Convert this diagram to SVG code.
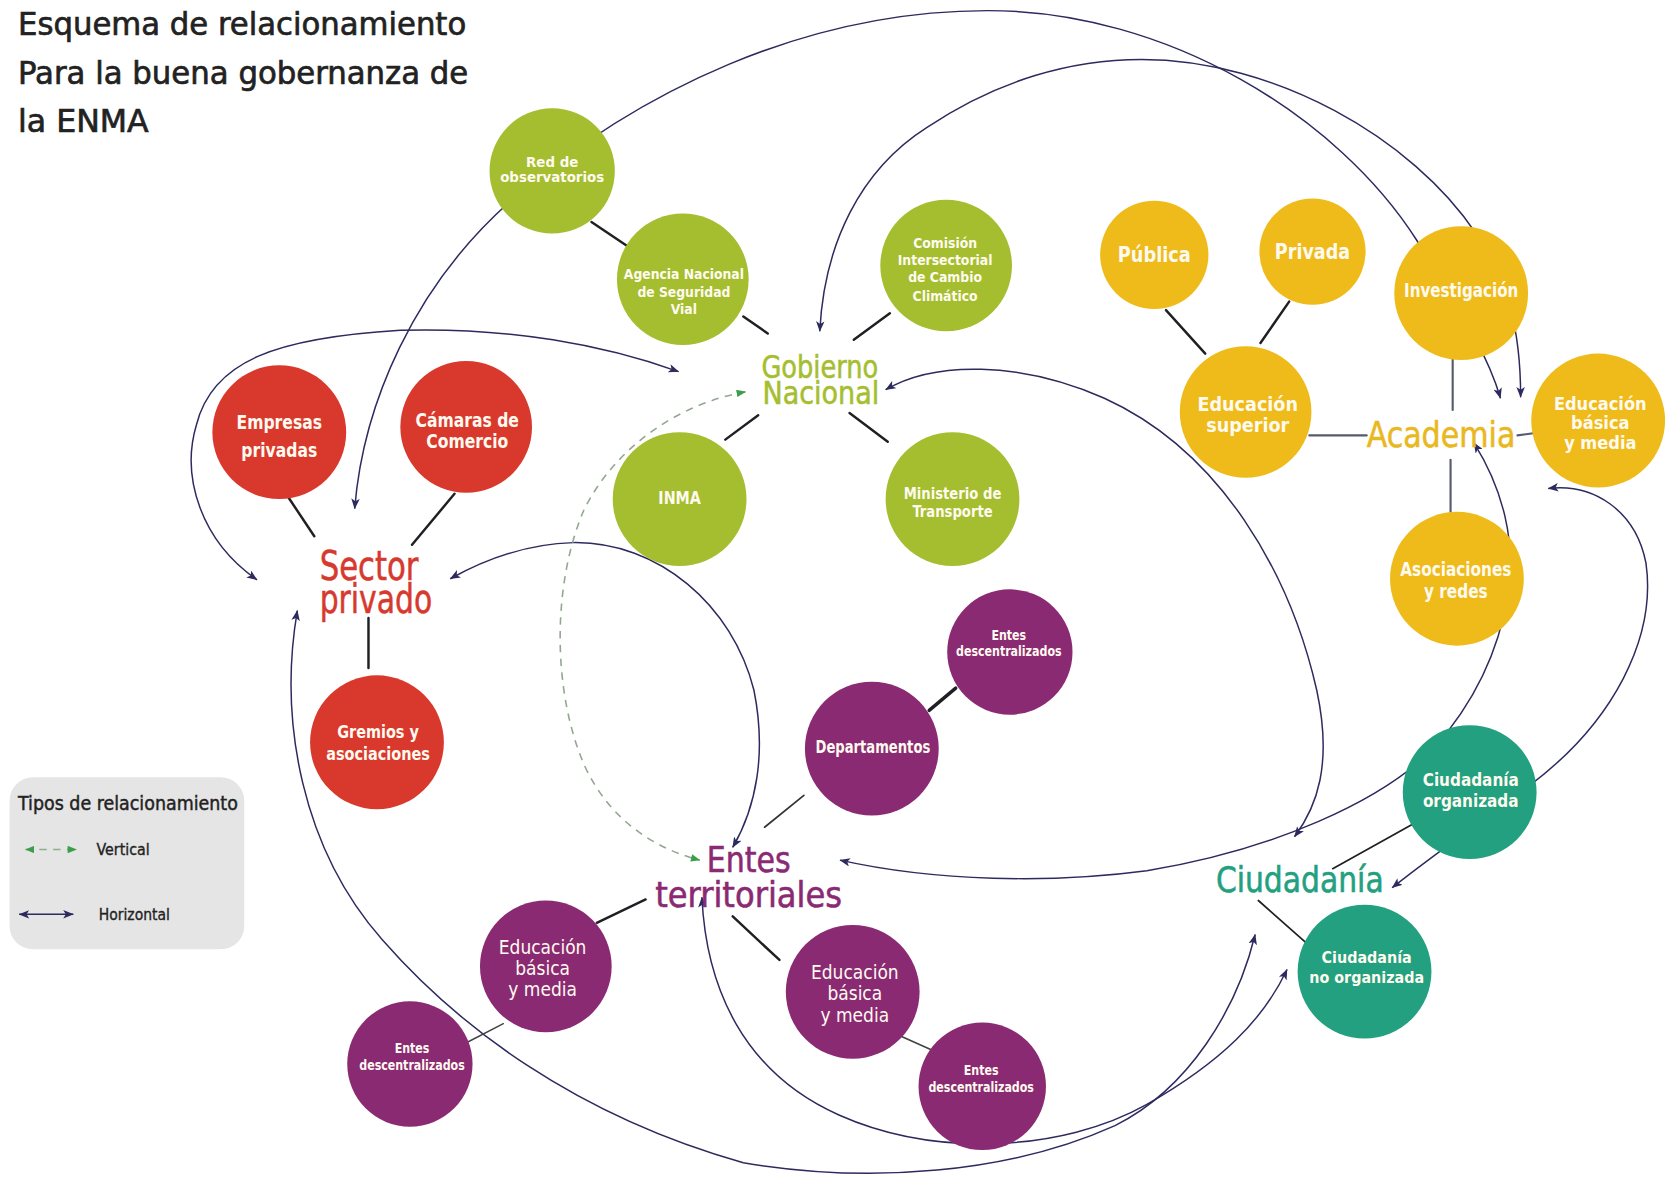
<svg xmlns="http://www.w3.org/2000/svg" width="1665" height="1179" viewBox="0 0 1665 1179">
<defs>
<style>
.f{font-family:'DejaVu Sans Condensed','DejaVu Sans',sans-serif}
.nt{font-family:'DejaVu Sans Condensed','DejaVu Sans',sans-serif;font-weight:bold;fill:#fffaf0;text-anchor:middle}
.nr{font-family:'DejaVu Sans Condensed','DejaVu Sans',sans-serif;font-weight:normal;fill:#fffaf0;text-anchor:middle}
.conn{fill:none;stroke:#2d2a5e;stroke-width:1.4}
.vert{fill:none;stroke:#93a791;stroke-width:1.5;stroke-dasharray:7 6}
.link{stroke:#1f1f24;stroke-width:2.3;stroke-linecap:round}
.green{fill:#a5be2f}
.yellow{fill:#efbb1b}
.red{fill:#d9392c}
.purple{fill:#8a2a72}
.teal{fill:#22a07f}
</style>
<marker id="ah" viewBox="0 0 10 8" refX="9.5" refY="4" markerWidth="10" markerHeight="8" markerUnits="userSpaceOnUse" orient="auto-start-reverse">
<path d="M0,0 L10,4 L0,8 L2.5,4 z" fill="#2d2a5e"/>
</marker>
<marker id="ahg" viewBox="0 0 10 8" refX="9.5" refY="4" markerWidth="9" markerHeight="7" markerUnits="userSpaceOnUse" orient="auto-start-reverse">
<path d="M0,0 L10,4 L0,8 z" fill="#3a9e4a"/>
</marker>
</defs>
<rect width="1665" height="1179" fill="#ffffff"/>
<g transform="scale(1.0619)">

<g id="title" class="f" fill="#222" stroke="#222" stroke-width="0.6" font-size="30">
<text x="17" y="33" textLength="422" lengthAdjust="spacingAndGlyphs">Esquema de relacionamiento</text>
<text x="17" y="79" textLength="424" lengthAdjust="spacingAndGlyphs">Para la buena gobernanza de</text>
<text x="17" y="124" textLength="123" lengthAdjust="spacingAndGlyphs">la ENMA</text>
</g>

<g id="connectors">
<path class="conn" marker-start="url(#ah)" marker-end="url(#ah)" d="M334,479 C342,380 390,270 480,190 C600,85 760,10 930,10 C1100,10 1260,110 1334,226 C1370,285 1400,330 1413,375"/>
<path class="conn" marker-start="url(#ah)" marker-end="url(#ah)" d="M772,312 C776,230 810,160 873,120 C940,75 1010,56 1075,56 C1200,56 1330,130 1390,220 C1420,265 1432,310 1432,374"/>
<path class="conn" marker-start="url(#ah)" marker-end="url(#ah)" d="M242,546 C190,510 170,450 185,400 C200,340 260,318 377,311 C480,308 570,325 639,350"/>
<path class="conn" marker-start="url(#ah)" marker-end="url(#ah)" d="M834,367 C880,340 960,340 1040,375 C1150,425 1215,540 1240,650 C1255,720 1240,760 1219,788"/>
<path class="conn" marker-start="url(#ah)" marker-end="url(#ah)" d="M1388,417 C1415,460 1428,510 1420,560 C1412,610 1390,660 1350,705 C1300,755 1200,800 1080,820 C990,832 880,830 791,810"/>
<path class="conn" marker-start="url(#ah)" marker-end="url(#ah)" d="M1458,460 C1500,455 1540,480 1550,530 C1560,600 1520,680 1440,740 C1400,770 1350,805 1311,836"/>
<path class="conn" marker-start="url(#ah)" marker-end="url(#ah)" d="M280,575 C262,680 285,800 360,885 C430,965 540,1050 700,1095 C820,1115 950,1105 1050,1060 C1120,1025 1165,950 1182,880"/>
<path class="conn" marker-start="url(#ah)" marker-end="url(#ah)" d="M661,845 C665,930 700,1010 790,1050 C880,1090 1000,1085 1080,1040 C1150,1000 1190,960 1212,913"/>
<path class="conn" marker-start="url(#ah)" marker-end="url(#ah)" d="M424,545 C460,525 500,512 540,511 C620,510 690,570 710,650 C722,710 712,760 690,798"/>
<path class="vert" marker-start="url(#ahg)" marker-end="url(#ahg)" d="M702,369 C640,380 580,420 550,480 C520,550 520,650 550,720 C575,775 620,800 659,810"/>
<line class="link" x1="557" y1="209" x2="591" y2="232"/>
<line class="link" x1="700" y1="298" x2="723" y2="314"/>
<line class="link" x1="838" y1="295" x2="804" y2="320"/>
<line class="link" x1="714" y1="391" x2="683" y2="414"/>
<line class="link" x1="800" y1="389" x2="836" y2="416"/>
<line class="link" x1="1098" y1="292" x2="1135" y2="333"/>
<line class="link" x1="1214" y1="284" x2="1187" y2="323"/>
<line class="link" x1="1233" y1="410" x2="1287" y2="410" style="stroke:#555a6e;stroke-width:2"/>
<line class="link" x1="1368" y1="336" x2="1368" y2="386" style="stroke:#555a6e;stroke-width:2"/>
<line class="link" x1="1429" y1="410" x2="1444" y2="408" style="stroke:#555a6e;stroke-width:2"/>
<line class="link" x1="1366" y1="433" x2="1366" y2="483" style="stroke:#555a6e;stroke-width:2"/>
<line class="link" x1="272" y1="469" x2="296" y2="505"/>
<line class="link" x1="428" y1="465" x2="388" y2="513"/>
<line class="link" x1="347" y1="582" x2="347" y2="629"/>
<line class="link" x1="900" y1="648" x2="875" y2="669" style="stroke-width:3.2"/>
<line class="link" x1="757" y1="749" x2="720" y2="779" style="stroke:#333;stroke-width:1.6"/>
<line class="link" x1="608" y1="847" x2="562" y2="869"/>
<line class="link" x1="474" y1="964" x2="441" y2="981" style="stroke:#444;stroke-width:1.4"/>
<line class="link" x1="690" y1="863" x2="734" y2="904"/>
<line class="link" x1="849" y1="976" x2="878" y2="989" style="stroke:#444;stroke-width:1.6"/>
<line class="link" x1="1334" y1="774" x2="1255" y2="818" style="stroke-width:1.6"/>
<line class="link" x1="1185" y1="848" x2="1229" y2="887" style="stroke-width:1.6"/>
</g>

<g id="gobierno-nacional" class="f" fill="#a5be2f" stroke="#a5be2f" stroke-width="0.5" font-size="30" text-anchor="middle">
<text x="772" y="356" textLength="110" lengthAdjust="spacingAndGlyphs">Gobierno</text>
<text x="773" y="380" textLength="110" lengthAdjust="spacingAndGlyphs">Nacional</text>
</g>
<g id="red-observatorios"><circle class="green" cx="520" cy="161" r="59"/>
<text class="nt" font-size="14" x="520" y="157">Red de</text><text class="nt" font-size="14" x="520" y="171">observatorios</text></g>
<g id="agencia-nacional"><circle class="green" cx="643" cy="263" r="62"/>
<g transform="matrix(0.96,0,0,1,25.76,0)"><text class="nt" font-size="13.5" x="644" y="263">Agencia Nacional</text><text class="nt" font-size="13.5" x="644" y="280">de Seguridad</text><text class="nt" font-size="13.5" x="644" y="296">Vial</text></g></g>
<g id="comision-intersectorial"><circle class="green" cx="891" cy="250" r="62"/>
<g transform="matrix(0.93,0,0,1,62.3,0)"><text class="nt" font-size="14" x="890" y="234">Comisión</text><text class="nt" font-size="14" x="890" y="250">Intersectorial</text><text class="nt" font-size="14" x="890" y="266">de Cambio</text><text class="nt" font-size="14" x="890" y="283">Climático</text></g></g>
<g id="inma"><circle class="green" cx="640" cy="470" r="63"/>
<g transform="matrix(0.88,0,0,1,76.8,0)"><text class="nt" font-size="17" x="640" y="475">INMA</text></g></g>
<g id="ministerio-transporte"><circle class="green" cx="897" cy="470" r="63"/>
<g transform="matrix(0.89,0,0,1,98.67,0)"><text class="nt" font-size="15.5" x="897" y="470">Ministerio de</text><text class="nt" font-size="15.5" x="897" y="487">Transporte</text></g></g>

<g id="academia" class="f" fill="#e9b81f" stroke="#e9b81f" stroke-width="0.5" font-size="33">
<text x="1287" y="421" textLength="140" lengthAdjust="spacingAndGlyphs">Academia</text>
</g>
<g id="publica"><circle class="yellow" cx="1087" cy="240" r="51"/>
<g transform="matrix(0.93,0,0,1,76.09,0)"><text class="nt" font-size="20" x="1087" y="247">Pública</text></g></g>
<g id="privada"><circle class="yellow" cx="1236" cy="237" r="50"/>
<g transform="matrix(0.92,0,0,1,98.88,0)"><text class="nt" font-size="20" x="1236" y="244">Privada</text></g></g>
<g id="investigacion"><circle class="yellow" cx="1376" cy="276" r="63"/>
<g transform="matrix(0.88,0,0,1,165.12,0)"><text class="nt" font-size="18" x="1376" y="280">Investigación</text></g></g>
<g id="educacion-superior"><circle class="yellow" cx="1173" cy="388" r="62"/>
<g transform="matrix(0.97,0,0,1,35.25,0)"><text class="nt" font-size="19" x="1175" y="387">Educación</text><text class="nt" font-size="19" x="1175" y="407">superior</text></g></g>
<g id="educacion-basica-academia"><circle class="yellow" cx="1505" cy="396" r="63"/>
<text class="nt" font-size="17" x="1507" y="386">Educación</text><text class="nt" font-size="17" x="1507" y="404">básica</text><text class="nt" font-size="17" x="1507" y="423">y media</text></g>
<g id="asociaciones-redes"><circle class="yellow" cx="1372" cy="545" r="63"/>
<g transform="matrix(0.89,0,0,1,150.81,0)"><text class="nt" font-size="18" x="1371" y="542">Asociaciones</text><text class="nt" font-size="18" x="1371" y="563">y redes</text></g></g>

<g id="sector-privado" class="f" fill="#d63a2e" stroke="#d63a2e" stroke-width="0.5" font-size="38">
<text x="301" y="546" textLength="93" lengthAdjust="spacingAndGlyphs">Sector</text>
<text x="301" y="577" textLength="106" lengthAdjust="spacingAndGlyphs">privado</text>
</g>
<g id="empresas-privadas"><circle class="red" cx="263" cy="407" r="63"/>
<g transform="matrix(0.86,0,0,1,36.82,0)"><text class="nt" font-size="19" x="263" y="404">Empresas</text><text class="nt" font-size="19" x="263" y="430">privadas</text></g></g>
<g id="camaras-comercio"><circle class="red" cx="439" cy="402" r="62"/>
<g transform="matrix(0.86,0,0,1,61.6,0)"><text class="nt" font-size="19" x="440" y="402">Cámaras de</text><text class="nt" font-size="19" x="440" y="422">Comercio</text></g></g>
<g id="gremios-asociaciones"><circle class="red" cx="355" cy="699" r="63"/>
<g transform="matrix(0.89,0,0,1,39.16,0)"><text class="nt" font-size="17" x="356" y="695">Gremios y</text><text class="nt" font-size="17" x="356" y="716">asociaciones</text></g></g>

<g id="entes-territoriales" class="f" fill="#8a2a72" stroke="#8a2a72" stroke-width="0.5" font-size="33" text-anchor="middle">
<text x="705" y="821" textLength="79" lengthAdjust="spacingAndGlyphs">Entes</text>
<text x="705" y="854" textLength="176" lengthAdjust="spacingAndGlyphs">territoriales</text>
</g>
<g id="entes-descentralizados-1"><circle class="purple" cx="951" cy="614" r="59"/>
<g transform="matrix(0.89,0,0,1,104.5,0)"><text class="nt" font-size="13" x="950" y="603">Entes</text><text class="nt" font-size="13" x="950" y="618">descentralizados</text></g></g>
<g id="departamentos"><circle class="purple" cx="821" cy="705" r="63"/>
<g transform="matrix(0.86,0,0,1,115.08,0)"><text class="nt" font-size="16" x="822" y="709">Departamentos</text></g></g>
<g id="educacion-basica-1"><circle class="purple" cx="514" cy="910" r="62"/>
<g transform="matrix(0.94,0,0,1,30.66,0)"><text class="nr" font-size="19" x="511" y="898">Educación</text><text class="nr" font-size="19" x="511" y="918">básica</text><text class="nr" font-size="19" x="511" y="938">y media</text></g></g>
<g id="entes-descentralizados-2"><circle class="purple" cx="386" cy="1002" r="59"/>
<g transform="matrix(0.89,0,0,1,42.68,0)"><text class="nt" font-size="13" x="388" y="992">Entes</text><text class="nt" font-size="13" x="388" y="1008">descentralizados</text></g></g>
<g id="educacion-basica-2"><circle class="purple" cx="803" cy="934" r="63"/>
<g transform="matrix(0.94,0,0,1,48.3,0)"><text class="nr" font-size="19" x="805" y="922">Educación</text><text class="nr" font-size="19" x="805" y="942">básica</text><text class="nr" font-size="19" x="805" y="962">y media</text></g></g>
<g id="entes-descentralizados-3"><circle class="purple" cx="925" cy="1023" r="60"/>
<g transform="matrix(0.89,0,0,1,101.64,0)"><text class="nt" font-size="13" x="924" y="1012">Entes</text><text class="nt" font-size="13" x="924" y="1028">descentralizados</text></g></g>

<g id="ciudadania" class="f" fill="#22a07f" stroke="#22a07f" stroke-width="0.5" font-size="33">
<text x="1145" y="840" textLength="158" lengthAdjust="spacingAndGlyphs">Ciudadanía</text>
</g>
<g id="ciudadania-organizada"><circle class="teal" cx="1384" cy="746" r="63"/>
<g transform="matrix(0.94,0,0,1,83.1,0)"><text class="nt" font-size="17" x="1385" y="740">Ciudadanía</text><text class="nt" font-size="17" x="1385" y="760">organizada</text></g></g>
<g id="ciudadania-no-organizada"><circle class="teal" cx="1285" cy="915" r="63"/>
<text class="nt" font-size="15" x="1287" y="907">Ciudadanía</text><text class="nt" font-size="15" x="1287" y="926">no organizada</text></g>

<g id="legend">
<rect x="9" y="732" width="221" height="162" rx="22" fill="#e5e5e5"/>
<text class="f" x="17" y="763" font-size="18" fill="#222" stroke="#222" stroke-width="0.4" textLength="207" lengthAdjust="spacingAndGlyphs">Tipos de relacionamiento</text>
<line x1="24" y1="800" x2="72" y2="800" stroke="#8fae8a" stroke-width="1.5" stroke-dasharray="7 6" marker-start="url(#ahg)" marker-end="url(#ahg)"/>
<text class="f" x="91" y="805" font-size="14.5" fill="#222" stroke="#222" stroke-width="0.3" textLength="50" lengthAdjust="spacingAndGlyphs">Vertical</text>
<line x1="18" y1="861" x2="69" y2="861" class="conn" marker-start="url(#ah)" marker-end="url(#ah)"/>
<text class="f" x="93" y="866" font-size="14.5" fill="#222" stroke="#222" stroke-width="0.3" textLength="67" lengthAdjust="spacingAndGlyphs">Horizontal</text>
</g>

</g>
</svg>
